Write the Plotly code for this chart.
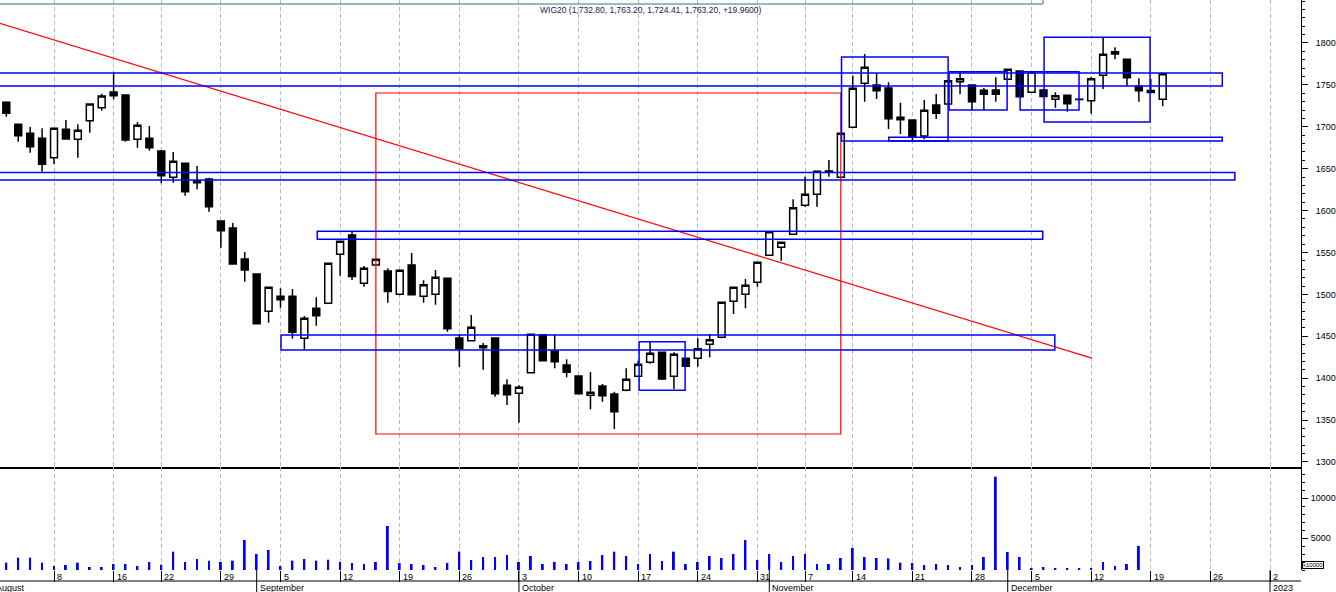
import plotly.graph_objects as go
from plotly.subplots import make_subplots

# trading sessions shown on the chart (WIG20, Aug - Dec 2022)
session_dates = [
    "2022-08-02", "2022-08-03", "2022-08-04", "2022-08-05", "2022-08-08", "2022-08-09", "2022-08-10",
    "2022-08-11", "2022-08-12", "2022-08-16", "2022-08-17", "2022-08-18", "2022-08-19", "2022-08-22",
    "2022-08-23", "2022-08-24", "2022-08-25", "2022-08-26", "2022-08-29", "2022-08-30", "2022-08-31",
    "2022-09-01", "2022-09-02", "2022-09-05", "2022-09-06", "2022-09-07", "2022-09-08", "2022-09-09",
    "2022-09-12", "2022-09-13", "2022-09-14", "2022-09-15", "2022-09-16", "2022-09-19", "2022-09-20",
    "2022-09-21", "2022-09-22", "2022-09-23", "2022-09-26", "2022-09-27", "2022-09-28", "2022-09-29",
    "2022-09-30", "2022-10-03", "2022-10-04", "2022-10-05", "2022-10-06", "2022-10-07", "2022-10-10",
    "2022-10-11", "2022-10-12", "2022-10-13", "2022-10-14", "2022-10-17", "2022-10-18", "2022-10-19",
    "2022-10-20", "2022-10-21", "2022-10-24", "2022-10-25", "2022-10-26", "2022-10-27", "2022-10-28",
    "2022-10-31", "2022-11-02", "2022-11-03", "2022-11-04", "2022-11-07", "2022-11-08", "2022-11-09",
    "2022-11-10", "2022-11-14", "2022-11-15", "2022-11-16", "2022-11-17", "2022-11-18", "2022-11-21",
    "2022-11-22", "2022-11-23", "2022-11-24", "2022-11-25", "2022-11-28", "2022-11-29", "2022-11-30",
    "2022-12-01", "2022-12-02", "2022-12-05", "2022-12-06", "2022-12-07", "2022-12-08", "2022-12-09",
    "2022-12-12", "2022-12-13", "2022-12-14", "2022-12-15", "2022-12-16", "2022-12-19", "2022-12-20",
]

opens = [
    1729.2, 1703.0, 1692.3, 1686.3, 1663.1, 1697.0, 1685.1, 1707.3, 1722.8, 1741.5,
    1737.9, 1685.1, 1686.3, 1671.1, 1639.7, 1656.4, 1635.3, 1637.7, 1587.6, 1579.2,
    1542.2, 1524.3, 1479.8, 1497.7, 1497.7, 1447.6, 1483.4, 1489.4, 1547.9, 1570.9,
    1513.2, 1535.1, 1527.9, 1500.1, 1535.1, 1497.7, 1500.1, 1519.2, 1448.0, 1444.8,
    1438.8, 1448.0, 1391.5, 1382.0, 1406.6, 1451.5, 1432.5, 1415.7, 1402.6, 1379.6,
    1390.7, 1381.1, 1385.6, 1402.3, 1419.0, 1430.9, 1402.3, 1423.7, 1423.7, 1440.4,
    1448.8, 1491.8, 1500.1, 1514.4, 1546.6, 1556.2, 1571.7, 1606.3, 1619.5, 1646.5,
    1639.7, 1699.4, 1751.9, 1749.9, 1746.3, 1711.3, 1708.1, 1689.0, 1726.0, 1727.2,
    1753.8, 1749.9, 1743.6, 1744.0, 1756.7, 1766.6, 1741.2, 1744.0, 1732.8, 1737.6,
    1732.5, 1731.1, 1761.4, 1786.9, 1780.5, 1748.3, 1741.0, 1732.80,
]
highs = [
    1730.5, 1704.0, 1699.8, 1698.2, 1698.5, 1708.1, 1703.0, 1727.5, 1739.5, 1765.0,
    1738.5, 1705.7, 1701.0, 1672.3, 1669.9, 1657.0, 1653.2, 1639.3, 1588.0, 1585.2,
    1550.6, 1525.0, 1508.5, 1507.3, 1506.4, 1474.2, 1496.5, 1537.1, 1563.4, 1574.8,
    1533.9, 1541.9, 1531.1, 1529.9, 1549.4, 1516.8, 1529.1, 1519.8, 1452.7, 1475.4,
    1442.0, 1448.5, 1398.7, 1391.5, 1452.3, 1452.0, 1451.5, 1422.6, 1403.0, 1407.4,
    1393.1, 1383.9, 1411.8, 1420.9, 1443.6, 1431.5, 1430.9, 1424.0, 1447.6, 1452.7,
    1490.6, 1508.5, 1518.4, 1538.3, 1574.8, 1562.2, 1613.5, 1640.5, 1646.9, 1660.4,
    1692.3, 1761.2, 1786.9, 1763.8, 1753.1, 1728.8, 1708.5, 1732.0, 1739.1, 1755.8,
    1766.1, 1750.5, 1746.3, 1759.0, 1769.0, 1767.0, 1766.0, 1745.0, 1741.2, 1738.0,
    1733.5, 1759.8, 1806.8, 1794.9, 1781.0, 1757.9, 1757.0, 1763.20,
]
lows = [
    1712.1, 1682.2, 1669.1, 1646.4, 1655.6, 1684.5, 1663.1, 1693.0, 1719.2, 1732.8,
    1682.2, 1675.1, 1671.5, 1632.6, 1633.3, 1617.8, 1625.4, 1598.7, 1555.7, 1535.4,
    1515.2, 1464.0, 1466.2, 1484.1, 1447.1, 1433.7, 1462.7, 1489.4, 1522.3, 1517.2,
    1509.2, 1535.1, 1490.1, 1498.9, 1499.0, 1490.1, 1487.7, 1455.5, 1413.4, 1444.0,
    1410.1, 1377.9, 1368.0, 1346.9, 1406.6, 1420.0, 1411.8, 1401.1, 1381.0, 1362.9,
    1372.0, 1339.4, 1384.4, 1401.5, 1417.3, 1397.8, 1387.1, 1414.0, 1413.7, 1424.9,
    1447.5, 1476.6, 1483.4, 1509.2, 1546.6, 1540.2, 1571.7, 1604.3, 1604.6, 1640.5,
    1639.7, 1699.4, 1730.0, 1733.2, 1697.4, 1691.4, 1684.2, 1685.1, 1709.3, 1727.0,
    1738.8, 1720.0, 1720.0, 1730.0, 1756.0, 1735.5, 1740.5, 1735.0, 1722.8, 1718.0,
    1731.5, 1715.6, 1745.1, 1780.5, 1748.7, 1730.0, 1740.0, 1724.41,
]
closes = [
    1716.1, 1689.4, 1676.3, 1655.2, 1698.2, 1685.4, 1695.8, 1727.2, 1736.7, 1737.1,
    1684.3, 1701.8, 1675.1, 1641.7, 1658.8, 1622.6, 1633.3, 1604.6, 1576.0, 1536.3,
    1529.1, 1465.0, 1508.5, 1493.7, 1454.8, 1471.5, 1474.6, 1537.1, 1563.4, 1521.2,
    1531.1, 1541.9, 1503.3, 1528.7, 1499.6, 1511.6, 1520.4, 1459.1, 1435.2, 1460.7,
    1436.4, 1381.5, 1380.3, 1389.1, 1452.3, 1420.9, 1419.7, 1407.0, 1381.5, 1383.2,
    1379.1, 1360.0, 1398.7, 1416.6, 1429.7, 1399.0, 1428.5, 1414.2, 1435.2, 1445.9,
    1490.6, 1508.5, 1510.9, 1538.3, 1574.8, 1562.2, 1603.5, 1619.5, 1646.9, 1647.3,
    1692.3, 1745.9, 1771.0, 1743.1, 1709.7, 1708.5, 1688.2, 1719.7, 1716.1, 1755.0,
    1757.4, 1730.0, 1738.8, 1738.8, 1768.6, 1735.9, 1765.5, 1736.0, 1737.1, 1727.6,
    1733.0, 1757.4, 1786.5, 1789.6, 1758.6, 1743.1, 1743.24, 1763.20,
]
# volume, in units of 10000
volumes = [
    1917, 2542, 2542, 1917, 1500, 1625, 1917, 1375, 1375, 1750,
    1750, 1500, 2000, 1667, 3292, 2000, 2375, 2167, 2000, 2167,
    4750, 3000, 3500, 1500, 2167, 2375, 2167, 2292, 2000, 1875,
    1750, 2000, 6500, 1875, 1750, 1625, 1375, 1875, 3292, 2250,
    2625, 2625, 2875, 2000, 2750, 1750, 2000, 1750, 2000, 2125,
    2875, 3292, 2750, 1750, 3000, 2125, 3292, 1750, 2000, 2750,
    2500, 3000, 4750, 2250, 3000, 2000, 2750, 3000, 1750, 1750,
    2500, 3750, 2625, 2500, 2450, 1917, 1875, 1625, 1750, 1625,
    1375, 1625, 2625, 12667, 3250, 2625, 1250, 1375, 1250, 1250,
    1250, 1250, 2000, 1500, 1750, 4000, 0, 0,
]

# time axis: one slot per session, future weekdays after the last one
future_dates = ["2022-12-21", "2022-12-22", "2022-12-23", "2022-12-26", "2022-12-27", "2022-12-28",
                "2022-12-29", "2022-12-30", "2023-01-02", "2023-01-03", "2023-01-04", "2023-01-05"]
axis_dates = ["2022-08-01"] + session_dates + future_dates
week_ticks = ["2022-08-08", "2022-08-16", "2022-08-22", "2022-08-29", "2022-09-05", "2022-09-12",
              "2022-09-19", "2022-09-26", "2022-10-03", "2022-10-10", "2022-10-17", "2022-10-24",
              "2022-10-31", "2022-11-07", "2022-11-14", "2022-11-21", "2022-11-28", "2022-12-05",
              "2022-12-12", "2022-12-19", "2022-12-26", "2023-01-02"]
month_starts = ["2022-09-01", "2022-10-03", "2022-11-02", "2022-12-01", "2023-01-02"]
month_names = ["September", "October", "November", "December", "2023"]
price_ticks = [1300, 1350, 1400, 1450, 1500, 1550, 1600, 1650, 1700, 1750, 1800]
volume_ticks = [5000, 10000]

# hand drawn studies (session slot, price)
trend_line = [(0, 1825.6), (92.05, 1424.0)]
red_box = (32.0, 71.0, 1333.4, 1740.3)
blue_boxes = [
    (-3, 103.0, 1748.7, 1764.2),
    (75.02, 103.0, 1683.1, 1687.5),
    (-3, 104.05, 1636.5, 1645.5),
    (27.08, 87.94, 1565.7, 1575.3),
    (24.04, 88.95, 1433.7, 1451.6),
    (54.08, 57.94, 1385.6, 1443.6),
    (71.06, 80.0, 1683.1, 1783.3),
    (80.08, 84.95, 1720.0, 1765.8),
    (86.04, 90.98, 1720.0, 1765.8),
    (88.05, 96.94, 1705.7, 1806.8),
]

slot = {d: i for i, d in enumerate(axis_dates)}
xs = [slot[d] for d in session_dates]
week_pos = [slot[d] for d in week_ticks]

FONT = "Liberation Sans, Arial, sans-serif"
PLOT_H = 570

fig = make_subplots(rows=2, cols=1, shared_xaxes=True, vertical_spacing=0, row_heights=[467, 103])

fig.add_trace(go.Candlestick(
    x=xs, open=opens, high=highs, low=lows, close=closes,
    increasing=dict(line=dict(color="black", width=1.5), fillcolor="white"),
    decreasing=dict(line=dict(color="black", width=1.5), fillcolor="black"),
    showlegend=False, name="WIG20"), row=1, col=1)

fig.add_trace(go.Bar(x=xs, y=volumes, width=0.16, marker=dict(color="#0000ff", line=dict(width=0)),
                     showlegend=False, name="Volume"), row=2, col=1)

# studies
fig.add_shape(type="line", xref="x", yref="y", x0=trend_line[0][0], y0=trend_line[0][1],
              x1=trend_line[1][0], y1=trend_line[1][1], line=dict(color="#ff0000", width=1.2))
fig.add_shape(type="rect", xref="x", yref="y", x0=red_box[0], x1=red_box[1], y0=red_box[2], y1=red_box[3],
              line=dict(color="#ff0000", width=1.2))
for x0, x1, y0, y1 in blue_boxes:
    fig.add_shape(type="rect", xref="x", yref="y", x0=x0, x1=x1, y0=y0, y1=y1,
                  line=dict(color="#0000ff", width=1.5))

# date axis rows under the volume pane
fig.add_shape(type="line", xref="paper", yref="paper", x0=0, x1=1, y0=-11 / PLOT_H, y1=-11 / PLOT_H,
              line=dict(color="black", width=1))
for d in month_starts:
    fig.add_shape(type="line", xref="x", yref="paper", x0=slot[d], x1=slot[d], y0=0, y1=-22 / PLOT_H,
                  line=dict(color="black", width=1))

for d in week_ticks:
    fig.add_annotation(x=slot[d], xref="x", y=0, yref="paper", text=str(int(d[8:])), showarrow=False,
                       xanchor="left", yanchor="top", xshift=1, font=dict(family=FONT, size=9, color="black"))
for d, name in zip(month_starts, month_names):
    fig.add_annotation(x=slot[d], xref="x", y=-11 / PLOT_H, yref="paper", text=name, showarrow=False,
                       xanchor="left", yanchor="top", xshift=1, font=dict(family=FONT, size=9, color="black"))
fig.add_annotation(x=0, xref="paper", y=-11 / PLOT_H, yref="paper", text="August", showarrow=False,
                   xanchor="left", yanchor="top", xshift=-6, font=dict(family=FONT, size=9, color="black"))

# header
fig.add_shape(type="rect", xref="paper", yref="paper", x0=-0.01, x1=1043 / 1301, y0=1 - 4 / PLOT_H, y1=1.05,
              line=dict(color="#2b7a70", width=1))
chg = closes[-1] - closes[-2]
title = f"WIG20 ({opens[-1]:,.2f}, {highs[-1]:,.2f}, {lows[-1]:,.2f}, {closes[-1]:,.2f}, +{chg:.4f})"
fig.add_annotation(x=0.5, xref="paper", y=1, yref="paper", text=title, showarrow=False, yanchor="top",
                   yshift=-3, font=dict(family=FONT, size=8.5, color="#1a1a50"))

fig.add_annotation(x=1, xref="paper", y=0, yref="paper", text="x10000", showarrow=False, xanchor="left",
                   yanchor="bottom", xshift=1, yshift=1, bordercolor="black", borderwidth=1, borderpad=0,
                   font=dict(family=FONT, size=6, color="black"))

fig.update_xaxes(range=[0.47, 109.6], tickvals=week_pos, showgrid=True, gridcolor="#b8b8b8",
                 griddash="4px,3px", gridwidth=1, zeroline=False, showticklabels=False,
                 rangeslider_visible=False)
fig.update_xaxes(row=1, col=1, ticks="", showline=True, linecolor="black", linewidth=1.5)
fig.update_xaxes(row=2, col=1, ticks="outside", ticklen=11, tickcolor="black", tickwidth=1, showline=False)

yax = dict(side="right", ticks="outside", ticklen=6, tickcolor="black", showline=True, linecolor="black",
           linewidth=1, showgrid=False, zeroline=False, automargin=False,
           tickfont=dict(family=FONT, size=9, color="black"))
fig.update_yaxes(row=1, col=1, range=[1294.0, 1851.3], tickvals=price_ticks,
                 ticktext=[str(v) for v in price_ticks], ticklabelstandoff=6,
                 minor=dict(dtick=10, ticks="outside", ticklen=3, tickcolor="black", showgrid=False), **yax)
fig.update_yaxes(row=2, col=1, range=[1000, 13875], tickvals=volume_ticks,
                 ticktext=[str(v) for v in volume_ticks], ticklabelstandoff=1,
                 minor=dict(dtick=1000, ticks="outside", ticklen=3, tickcolor="black", showgrid=False), **yax)

fig.update_layout(width=1336, height=592, margin=dict(l=0, r=35, t=0, b=22),
                  plot_bgcolor="white", paper_bgcolor="white", showlegend=False, boxgap=0.17,
                  font=dict(family=FONT, size=9, color="black"), hovermode=False)

fig.write_html("out.html", config={"displayModeBar": False},
               post_script="document.body.style.margin='0';document.body.style.overflow='hidden';")
